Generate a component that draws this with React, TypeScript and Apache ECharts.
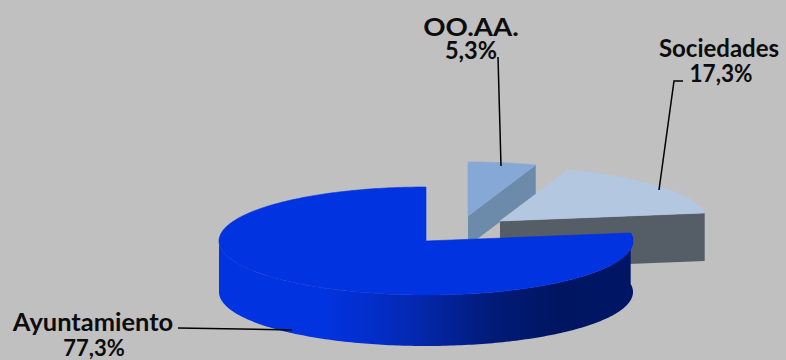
import React, { useEffect, useRef } from "react";
import * as echarts from "echarts";

const categories = ["OO.AA.", "Sociedades", "Ayuntamiento"];
const values = [5.3, 17.3, 77.3];

// style and layout
const CX = 426, CY = 241, RX = 207, RY = 54;
const offsets = [[42, -25], [74, -20], [0, 0]];
const depths = [30, 48, 51];
const topColors = ["#86A8D6", "#B3C7E0", "#0233E0"];
const wallColors = ["#6C8AAA", "#555E66", "#0233E0"];
const FONT = "Lato";

const total = values.reduce((a, b) => a + b, 0);

const pt = (deg: number, ox: number, oy: number) => {
  const r = (deg * Math.PI) / 180;
  return [CX + ox + RX * Math.sin(r), CY + oy - RY * Math.cos(r)];
};

const arc = (a: number, b: number, ox: number, oy: number) => {
  const pts: number[][] = [];
  const n = Math.max(2, Math.ceil(Math.abs(b - a)));
  for (let i = 0; i <= n; i++) pts.push(pt(a + ((b - a) * i) / n, ox, oy));
  return pts;
};

const renderItem = (_p: any, api: any) => {
  const idx = _p.dataIndex;
  let start = 0;
  for (let i = 0; i < idx; i++) start += (values[i] / total) * 360;
  const end = start + (api.value(0) / total) * 360;
  const [ox, oy] = offsets[idx];
  const d = depths[idx];
  const apex = [CX + ox, CY + oy];
  const children: any[] = [];
  if (idx === 2) {
    const top = arc(start, 270, ox, oy);
    const bottom = top.map(([x, y]) => [x, y + d]).reverse();
    children.push({
      type: "polygon",
      shape: { points: [...top, ...bottom] },
      style: {
        fill: new echarts.graphic.LinearGradient(
          0, 0, 1, 0,
          [
            { offset: 0, color: "#0233E0" },
            { offset: 0.25, color: "#0233E0" },
            { offset: 0.36, color: "#032ECC" },
            { offset: 0.5, color: "#0426A8" },
            { offset: 0.66, color: "#011B78" },
            { offset: 0.82, color: "#001562" },
            { offset: 1, color: "#001664" },
          ]
        ),
      },
    });
  } else {
    const rim = pt(end, ox, oy);
    children.push({
      type: "polygon",
      shape: { points: [apex, rim, [rim[0], rim[1] + d], [apex[0], apex[1] + d]] },
      style: { fill: wallColors[idx] },
    });
  }
  children.push({
    type: "polygon",
    shape: { points: [apex, ...arc(start, end, ox, oy)] },
    style: { fill: topColors[idx], stroke: topColors[idx], lineWidth: 0.6 },
  });
  return { type: "group", children };
};

const fmt = (v: number) => v.toFixed(1).replace(".", ",") + "%";

const label = (text: string, x: number, y: number, scaleX = 1, size = 24) => ({
  type: "text" as const,
  x,
  y,
  scaleX,
  style: {
    text,
    fill: "#0c0c0c",
    font: `bold ${size}px ${FONT}`,
    textAlign: "center" as const,
    textVerticalAlign: "middle" as const,
  },
});

const leader = (points: number[][]) => ({
  type: "polyline" as const,
  shape: { points },
  style: { stroke: "#000", lineWidth: 1.5, fill: "none" },
  z: 5,
});

export default function App() {
  const ref = useRef<HTMLDivElement>(null);
  useEffect(() => {
    document.body.style.margin = "0";
    const chart = echarts.init(ref.current!, null, { renderer: "svg" });
    chart.setOption({
      animation: false,
      backgroundColor: "#C0C0C0",
      series: [
        {
          type: "custom",
          coordinateSystem: "none",
          renderItem,
          data: values.map((v) => [v]),
          silent: true,
        },
      ],
      graphic: [
        label(categories[0], 471, 27, 1.15),
        label(fmt(values[0]), 471, 50, 0.98),
        label(categories[1], 719, 47, 1),
        label(fmt(values[1]), 721, 73, 0.94),
        label(categories[2], 93, 322, 1.06),
        label(fmt(values[2]), 94, 347, 1, 22),
        leader([[498, 57], [501, 166]]),
        leader([[683, 81], [674, 81], [659, 190]]),
        leader([[178, 328], [292, 330]]),
      ],
    });
    return () => chart.dispose();
  }, []);
  return <div ref={ref} style={{ width: 786, height: 360 }} />;
}
